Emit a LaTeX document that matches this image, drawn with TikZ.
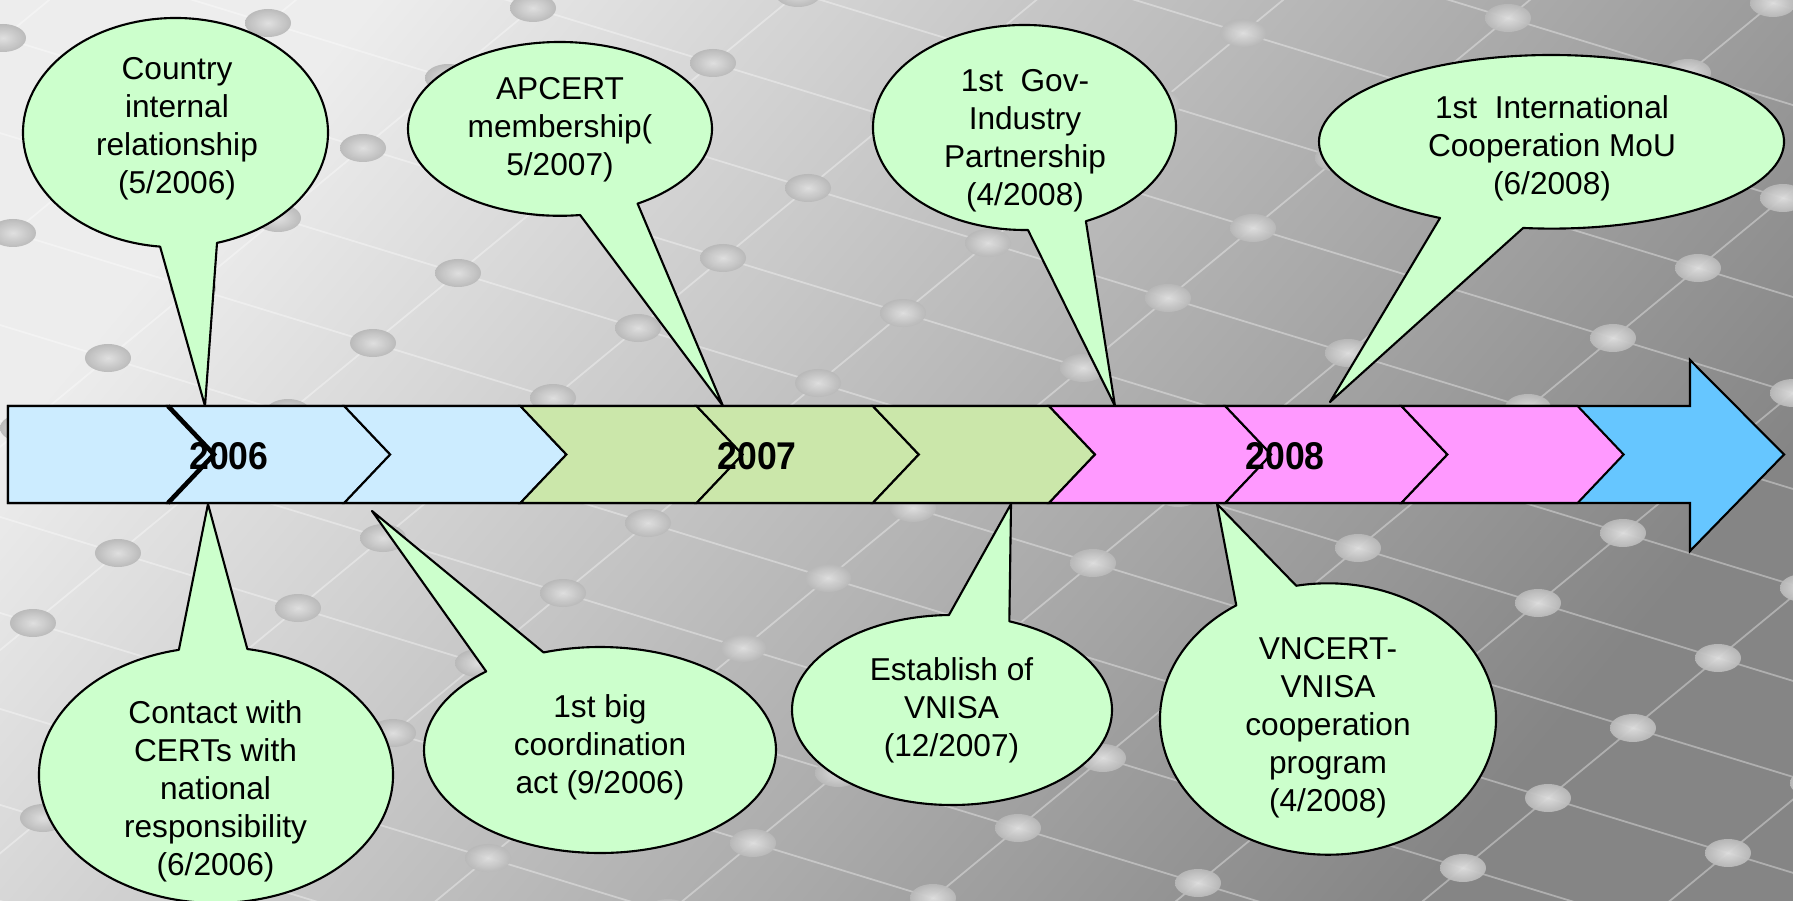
\documentclass[tikz,border=0pt]{standalone}
\usepackage{fontspec}
\setmainfont{Liberation Sans}
\definecolor{segblue}{HTML}{CCECFF}
\definecolor{seggreen}{HTML}{CBE7AA}
\definecolor{segpink}{HTML}{FF99FF}
\definecolor{headblue}{HTML}{66C6FF}
\definecolor{bubblegreen}{HTML}{CCFFCC}
\definecolor{bglight}{gray}{0.93}
\definecolor{bgdark}{gray}{0.52}
\tikzset{
    seg/.style={draw=black, line width=0.6pt},
    bubble/.style={draw=black, fill=bubblegreen, line width=0.6pt, line join=round},
    bubbletext/.style={align=center, inner sep=0pt, font=\fontsize{9}{10.8}\selectfont},
    year/.style={inner sep=0pt, font=\fontsize{11}{13}\selectfont\bfseries},
    netline/.style={draw=white, opacity=0.35, line width=0.5pt},
    knob/.style={inner color=gray!25, outer color=gray!55, opacity=0.95},
}
\begin{document}
\begin{tikzpicture}
    \useasboundingbox (0,0) rectangle (17.93,9);
    \shade[top color=bglight, bottom color=bgdark, shading angle=50] (0,0) rectangle (17.93,9);
    % background net
    \begin{scope}
        \clip (0,0) rectangle (17.93,9);
        \foreach \i in {-6,...,7}
            \draw[netline] ({9.03+1.8*\i-0.85*11},{5.87-0.55*\i-0.7*11}) -- ({9.03+1.8*\i+0.85*8},{5.87-0.55*\i+0.7*8});
        \foreach \j in {-10,...,7}
            \draw[netline] ({9.03+0.85*\j-1.8*8},{5.87+0.7*\j+0.55*8}) -- ({9.03+0.85*\j+1.8*9},{5.87+0.7*\j-0.55*9});
        \foreach \i in {-6,...,7}
            \foreach \j in {-10,...,7}
            {
                \shade[knob] ({9.03+1.8*\i+0.85*\j},{5.87-0.55*\i+0.7*\j}) ellipse [x radius=0.23, y radius=0.14];
            }
    \end{scope}
    % arrow
    \filldraw[seg, fill=headblue] (0.08,3.97) -- (16.90,3.97) -- (16.90,3.49) -- (17.84,4.455)
        -- (16.90,5.40) -- (16.90,4.94) -- (0.08,4.94) -- cycle;
    \filldraw[seg, fill=segblue] (0.08,4.94) -- (1.68,4.94) -- (2.14,4.455) -- (1.68,3.97) -- (0.08,3.97) -- cycle;
    \foreach \i/\col in {1/segblue,2/segblue,3/seggreen,4/seggreen,5/seggreen,6/segpink,7/segpink,8/segpink}
    {
        \pgfmathsetmacro\xa{1.68+1.762*(\i-1)}
        \pgfmathsetmacro\xb{1.68+1.762*\i}
        \filldraw[seg, fill=\col] (\xa,4.94) -- (\xb,4.94) -- (\xb+0.46,4.455) -- (\xb,3.97)
            -- (\xa,3.97) -- (\xa+0.46,4.455) -- cycle;
    }
    \draw[line width=1.3pt] (1.68,4.94) -- (2.14,4.455) -- (1.68,3.97);
    \node[year] (y2006) at (2.29,4.44) {\scalebox{0.92}[1]{2006}};
    \node[year] (y2007) at (7.57,4.44) {\scalebox{0.92}[1]{2007}};
    \node[year] (y2008) at (12.85,4.44) {\scalebox{0.92}[1]{2008}};
    % callouts
    \coordinate (tip1) at (2.05,4.94);
    \coordinate (tip2) at (7.23,4.94);
    \coordinate (tip3) at (11.15,4.94);
    \coordinate (tip4) at (13.30,4.98);
    \coordinate (tip5) at (2.08,3.96);
    \coordinate (tip6) at (3.72,3.89);
    \coordinate (tip7) at (10.11,3.96);
    \coordinate (tip8) at (12.17,3.96);
    \foreach \cx/\cy/\rx/\ry/\a/\b/\t in {
        1.755/7.674/1.525/1.146/285.8/624.2/tip1,
        5.60/7.711/1.52/0.869/300.7/637.6/tip2,
        10.245/7.725/1.515/1.025/293.9/631.3/tip3,
        15.515/7.582/2.325/0.868/263/601.35/tip4,
        2.16/1.25/1.77/1.28/102.1/439.8/tip5,
        6.00/1.50/1.76/1.03/130.3/468.7/tip6,
        9.52/1.90/1.60/0.95/91.1/429/tip7,
        13.28/1.81/1.68/1.357/123.1/460.9/tip8}
    {
        \filldraw[bubble] ({\cx+\rx*cos(\a)},{\cy+\ry*sin(\a)})
            arc[start angle=\a, end angle=\b, x radius=\rx, y radius=\ry] -- (\t) -- cycle;
    }
    \node[bubbletext] (country) at (1.77,7.71) {Country\\internal\\relationship\\(5/2006)};
    \node[bubbletext] (apcert) at (5.60,7.705) {APCERT\\membership(\\5/2007)};
    \node[bubbletext] (govind) at (10.25,7.59) {1st~ Gov-\\Industry\\Partnership\\(4/2008)};
    \node[bubbletext] (intl) at (15.52,7.52) {1st~ International\\Cooperation MoU\\(6/2008)};
    \node[bubbletext] (contact) at (2.155,1.09) {Contact with\\CERTs with\\national\\responsibility\\(6/2006)};
    \node[bubbletext] (coord) at (6.00,1.53) {1st big\\coordination\\act (9/2006)};
    \node[bubbletext] (vnisa) at (9.515,1.90) {Establish of\\VNISA\\(12/2007)};
    \node[bubbletext] (coop) at (13.28,1.72) {VNCERT-\\VNISA\\cooperation\\program\\(4/2008)};
\end{tikzpicture}
\end{document}
